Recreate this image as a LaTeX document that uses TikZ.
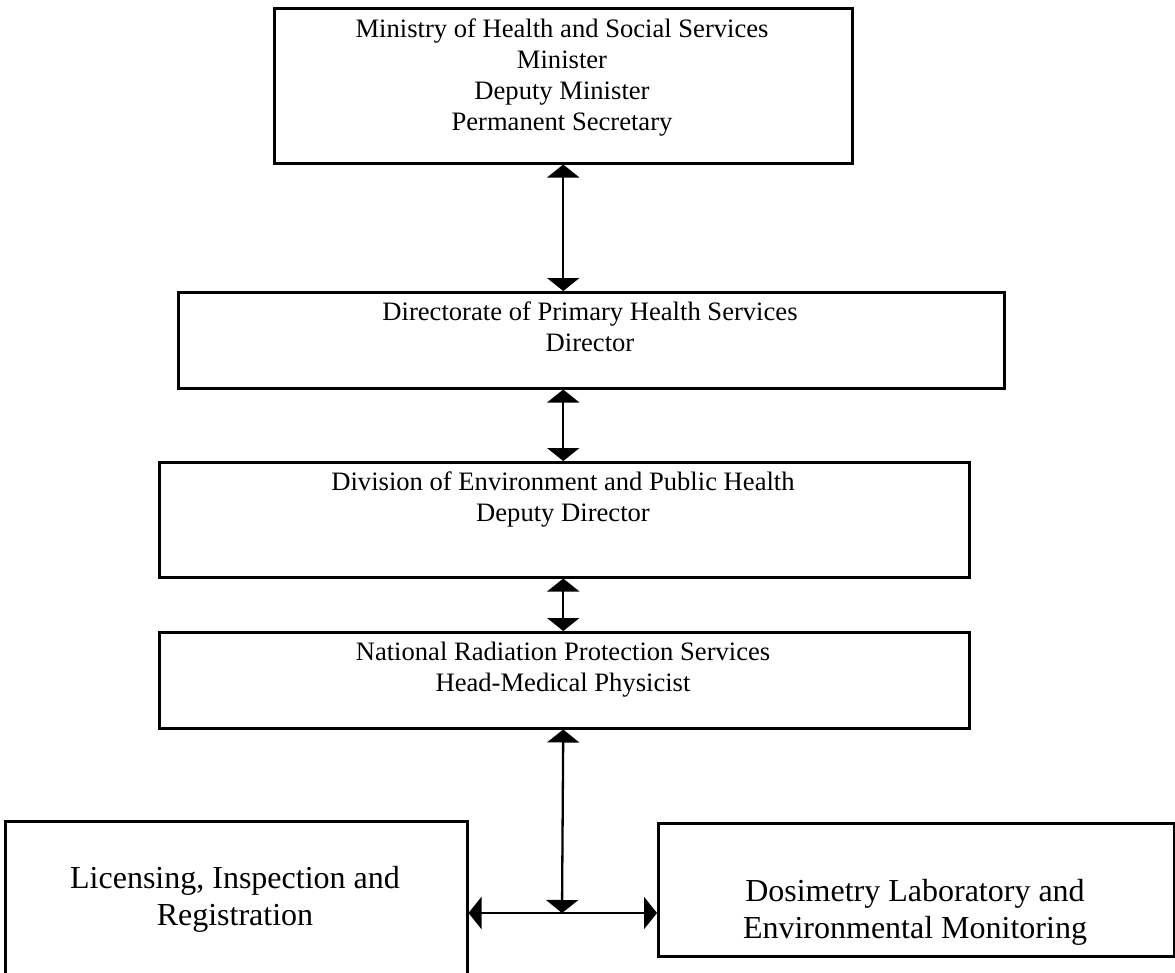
\documentclass[tikz,border=0pt]{standalone}
\usepackage{fontspec}
\setmainfont{Liberation Serif}
\usetikzlibrary{arrows.meta}
\begin{document}
\begin{tikzpicture}[x=1pt,y=-1pt,
  box/.style={draw, line width=2.5pt, inner sep=0pt, anchor=north west},
  small/.style={anchor=north, inner sep=0pt, align=center,
    font=\fontsize{26.6}{31}\selectfont},
  big/.style={anchor=north, inner sep=0pt, align=center,
    font=\fontsize{32}{37}\selectfont},
  link/.style={line width=2.3pt,
    {Triangle[length=13pt,width=32pt]}-{Triangle[length=13pt,width=32pt]}}
]
\clip (0,0) rectangle (1175,972);

% organisation boxes
\node[box, minimum width=578pt, minimum height=155pt] (b1) at (273,7) {};
\node[box, minimum width=826pt, minimum height=96pt]  (b2) at (177,291) {};
\node[box, minimum width=810pt, minimum height=115pt] (b3) at (158,461) {};
\node[box, minimum width=810pt, minimum height=96pt]  (b4) at (158,631) {};
\node[box, minimum width=462pt, minimum height=200pt] (b5) at (4,820) {};
\node[box, minimum width=516pt, minimum height=133pt] (b6) at (657,822) {};

% box titles
\node[small] (t1) at (562,15.3) {\strut Ministry of Health and Social Services\\Minister\\Deputy Minister\\Permanent Secretary};
\node[small] (t2) at (590,298.3) {\strut Directorate of Primary Health Services\\Director};
\node[small] (t3) at (563,468.3) {\strut Division of Environment and Public Health\\Deputy Director};
\node[small] (t4) at (563,638.3) {\strut National Radiation Protection Services\\Head-Medical Physicist};
\node[big] (t5) at (235,862) {\strut Licensing, Inspection and\\Registration};
\node[big] (t6) at (915,875) {\strut Dosimetry Laboratory and\\Environmental Monitoring};

% reporting lines
\coordinate (split) at (562,913);
\draw[link] (b1.south) -- (b1.south |- b2.north);
\draw[link] (b1.south |- b2.south) -- (b1.south |- b3.north);
\draw[link] (b1.south |- b3.south) -- (b1.south |- b4.north);
\draw[link] (b1.south |- b4.south) -- (split);
\draw[link] (split -| b5.east) -- (split -| b6.west);
\end{tikzpicture}
\end{document}
